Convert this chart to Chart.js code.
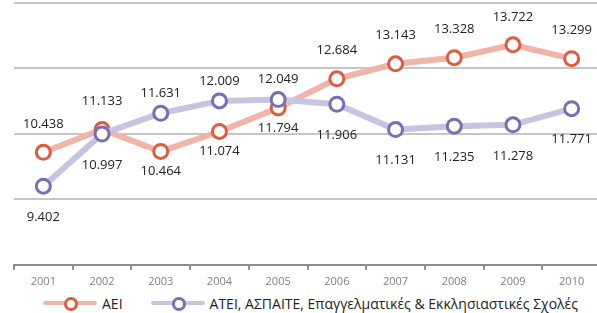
<!DOCTYPE html>
<html>
<head>
<meta charset="utf-8">
<script src="https://cdn.jsdelivr.net/npm/chart.js@4/dist/chart.umd.min.js"></script>
<style>
  html, body { margin: 0; padding: 0; background: #fff; overflow: hidden; }
  #wrap { position: relative; width: 611px; height: 300px; margin-top: -7px; }
  #legend { position: absolute; top: 293px; left: 43px; font-family: "Open Sans", sans-serif; font-size: 14px; color: #222; display: flex; align-items: center; white-space: nowrap; }
  .item { display: flex; align-items: center; margin-right: 28px; }
  .sw { position: relative; width: 54px; height: 20px; margin-right: 5px; }
  .sw .ln { position: absolute; left: 0; right: 0; top: 8px; height: 4px; border-radius: 2px; }
  .sw .pt { position: absolute; left: 21px; top: 4px; width: 8px; height: 8px; border-radius: 50%; border: 3px solid; background: #fff; }
</style>
</head>
<body>
<div id="wrap"><canvas id="chart"></canvas></div>
<div id="legend"></div>
<script>
// Data
const years = ['2001', '2002', '2003', '2004', '2005', '2006', '2007', '2008', '2009', '2010'];
const aei = [10.438, 11.133, 10.464, 11.074, 11.794, 12.684, 13.143, 13.328, 13.722, 13.299];
const atei = [9.402, 10.997, 11.631, 12.009, 12.049, 11.906, 11.131, 11.235, 11.278, 11.771];
const seriesNames = ['ΑΕΙ', 'ΑΤΕΙ, ΑΣΠΑΙΤΕ, Επαγγελματικές & Εκκλησιαστικές Σχολές'];

// label placement: 1 = above, -1 = below
const aeiSide = [1, 1, -1, -1, -1, 1, 1, 1, 1, 1];
const ateiSide = [-1, -1, 1, 1, 1, -1, -1, -1, -1, -1];

const colors = {
    aeiLine: '#f1b4a8', aeiPoint: '#dd5b3e',
    ateiLine: '#c7c4e1', ateiPoint: '#7a6db8'
};

const fmt = v => v.toFixed(3);

// Value labels drawn next to each point
const valueLabels = {
    id: 'valueLabels',
    afterDatasetsDraw(chart) {
        const c = chart.ctx;
        c.save();
        c.font = '13px "Open Sans", sans-serif';
        c.fillStyle = '#222';
        c.textAlign = 'center';
        c.textBaseline = 'middle';
        chart.data.datasets.forEach((ds, di) => {
            const meta = chart.getDatasetMeta(di);
            meta.data.forEach((pt, i) => {
                const up = ds.sides[i] === 1;
                const off = up ? -ds.upOff : ds.downOff;
                c.fillText(fmt(ds.data[i]), pt.x, pt.y + off);
            });
        });
        c.restore();
    }
};

const ctx = document.getElementById('chart').getContext('2d');
const chart = new Chart(ctx, {
    type: 'line',
    data: {
        labels: years,
        // ATEI first so it is drawn over AEI
        datasets: [{
            label: seriesNames[1],
            data: atei,
            sides: ateiSide, upOff: 20, downOff: 31,
            borderColor: colors.ateiLine,
            borderWidth: 6,
            pointBorderColor: colors.ateiPoint,
            pointBackgroundColor: '#fff',
            pointBorderWidth: 3,
            pointRadius: 7,
            tension: 0
        }, {
            label: seriesNames[0],
            data: aei,
            sides: aeiSide, upOff: 28, downOff: 20,
            borderColor: colors.aeiLine,
            borderWidth: 6,
            pointBorderColor: colors.aeiPoint,
            pointBackgroundColor: '#fff',
            pointBorderWidth: 3,
            pointRadius: 7,
            tension: 0
        }]
    },
    options: {
        responsive: true,
        maintainAspectRatio: false,
        animation: false,
        layout: { padding: { top: 0, left: 14, right: 0, bottom: 0 } },
        plugins: {
            legend: { display: false },
            tooltip: { enabled: false }
        },
        scales: {
            x: {
                offset: true,
                grid: { display: true, offset: true, drawOnChartArea: false, drawTicks: true, tickLength: 5, color: '#8c8c8c', lineWidth: 2 },
                border: { display: true, color: '#8c8c8c', width: 2 },
                ticks: { color: '#7f7f7f', font: { family: 'Open Sans', size: 11 }, padding: 5, maxRotation: 0 }
            },
            y: {
                min: 7,
                max: 15,
                ticks: { display: false, stepSize: 2 },
                grid: { color: '#c6c6c6', lineWidth: 2, drawTicks: false },
                border: { display: false }
            }
        }
    },
    plugins: [valueLabels]
});

// Legend
const legend = document.getElementById('legend');
[[seriesNames[0], colors.aeiLine, colors.aeiPoint], [seriesNames[1], colors.ateiLine, colors.ateiPoint]].forEach(([name, ln, pt]) => {
    const item = document.createElement('div');
    item.className = 'item';
    item.innerHTML = '<div class="sw"><div class="ln" style="background:' + ln + '"></div><div class="pt" style="border-color:' + pt + '"></div></div><span></span>';
    item.querySelector('span').textContent = name;
    legend.appendChild(item);
});
</script>
</body>
</html>
